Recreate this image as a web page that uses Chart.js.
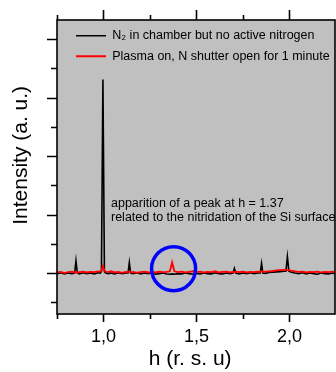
<!DOCTYPE html>
<html>
<head>
<meta charset="utf-8">
<script src="https://cdn.jsdelivr.net/npm/chart.js@4.4.1/dist/chart.umd.min.js"></script>
<style>
  html, body { margin: 0; padding: 0; background: #fff; overflow: hidden; }
  canvas { display: block; }
</style>
</head>
<body>
<canvas id="xrdChart" width="336" height="372"></canvas>
<script>
// h values (r. s. u) shared by both scans
const hValues = [
    0.75, 0.77, 0.79, 0.81, 0.83, 0.845, 0.852, 0.859, 0.87, 0.89,
    0.91, 0.93, 0.95, 0.97, 0.983, 0.989, 0.997, 1.005, 1.012, 1.025,
    1.04, 1.06, 1.08, 1.10, 1.12, 1.132, 1.139, 1.146, 1.16, 1.18,
    1.20, 1.22, 1.24, 1.26, 1.28, 1.30, 1.32, 1.34, 1.357, 1.369,
    1.381, 1.40, 1.42, 1.44, 1.46, 1.48, 1.50, 1.52, 1.54, 1.56,
    1.58, 1.60, 1.62, 1.64, 1.66, 1.68, 1.697, 1.704, 1.711, 1.73,
    1.75, 1.77, 1.79, 1.81, 1.83, 1.843, 1.85, 1.857, 1.87, 1.89,
    1.91, 1.93, 1.95, 1.97, 1.981, 1.989, 1.997, 2.01, 2.03, 2.05,
    2.07, 2.09, 2.11, 2.13, 2.15, 2.17, 2.19, 2.21, 2.23, 2.245
];

// N2 in chamber, no active nitrogen
const blackIntensity = [
    -0.02, 0.01, -0.03, 0.0, -0.02, 0.0, 0.42, 0.0, -0.03, 0.01,
    -0.02, 0.0, -0.03, 0.01, 0.0, 0.05, 6.62, 0.05, 0.0, -0.02,
    0.0, -0.03, 0.01, -0.02, 0.0, 0.0, 0.36, 0.0, -0.02, 0.01,
    -0.03, 0.0, -0.02, 0.01, -0.04, -0.02, 0.0, -0.03, -0.04, -0.03,
    -0.04, -0.02, -0.03, 0.0, -0.02, -0.04, -0.01, -0.03, 0.0, -0.02,
    -0.03, 0.01, -0.02, -0.03, 0.0, -0.02, 0.0, 0.16, 0.0, -0.03,
    0.0, -0.02, 0.01, -0.02, 0.0, 0.0, 0.33, 0.0, -0.01, 0.02,
    0.03, 0.04, 0.05, 0.06, 0.06, 0.56, 0.06, 0.03, 0.0, -0.02,
    0.01, -0.03, 0.0, -0.02, -0.04, 0.0, -0.02, -0.03, 0.0, -0.02
];

// plasma on, N shutter open 1 minute
const redIntensity = [
    0.02, 0.04, 0.0, 0.03, 0.05, 0.02, 0.04, 0.01, 0.03, 0.05,
    0.02, 0.04, 0.03, 0.06, 0.05, 0.09, 0.25, 0.08, 0.05, 0.03,
    0.06, 0.02, 0.04, 0.01, 0.04, 0.03, 0.05, 0.02, 0.04, 0.01,
    0.03, 0.05, 0.02, 0.04, 0.02, 0.05, 0.03, 0.04, 0.06, 0.37,
    0.06, 0.03, 0.05, 0.02, 0.04, 0.06, 0.03, 0.05, 0.02, 0.04,
    0.03, 0.06, 0.02, 0.04, 0.05, 0.02, 0.04, 0.03, 0.05, 0.03,
    0.05, 0.02, 0.04, 0.03, 0.05, 0.04, 0.06, 0.04, 0.05, 0.06,
    0.07, 0.09, 0.1, 0.11, 0.11, 0.1, 0.1, 0.08, 0.06, 0.04,
    0.05, 0.02, 0.04, 0.03, 0.05, 0.02, 0.04, 0.03, 0.05, 0.03
];

// circled peak (h, intensity)
const highlightPoint = [{ x: 1.377, y: 0.15 }];

const xLabelTicks = [1.0, 1.5, 2.0];
const xMajorTicks = [1.0, 1.5, 2.0];
const xMinorTicks = [0.75, 1.25, 1.75];
const yMajorTicks = [0, 2, 4, 6, 8];
const yMinorTicks = [-1, 1, 3, 5, 7];

const noteLines = [
    'apparition of a peak at h = 1.37',
    'related to the nitridation of the Si surface'
];

Chart.defaults.font.family = '"Liberation Sans", Arial, sans-serif';
Chart.defaults.color = '#000';

const framePlugin = {
    id: 'frame',
    afterLayout(chart) {
        // put the legend inside the grey box, top left
        const a = chart.chartArea;
        chart.legend.left = a.left + 11;
        chart.legend.top = a.top + 1.5;
    },
    beforeDraw(chart) {
        const { ctx, chartArea: a } = chart;
        ctx.save();
        ctx.fillStyle = '#c0c0c0';
        ctx.fillRect(a.left, a.top, a.right - a.left, a.bottom - a.top);
        ctx.restore();
    },
    afterDraw(chart) {
        const { ctx, chartArea: a } = chart;
        const x = chart.scales.x, y = chart.scales.y;
        ctx.save();
        ctx.strokeStyle = '#000';
        ctx.lineWidth = 1.6;
        ctx.strokeRect(a.left, a.top, a.right - a.left, a.bottom - a.top);

        ctx.beginPath();
        xMajorTicks.forEach(v => {
            const px = Math.round(x.getPixelForValue(v)) + 0.5;
            ctx.moveTo(px, a.top); ctx.lineTo(px, a.top - 10);
            ctx.moveTo(px, a.bottom); ctx.lineTo(px, a.bottom + 8);
        });
        xMinorTicks.forEach(v => {
            const px = Math.round(x.getPixelForValue(v)) + 0.5;
            ctx.moveTo(px, a.top); ctx.lineTo(px, a.top - 5);
            ctx.moveTo(px, a.bottom); ctx.lineTo(px, a.bottom + 5);
        });
        yMajorTicks.forEach(v => {
            const py = Math.round(y.getPixelForValue(v)) + 0.5;
            ctx.moveTo(a.left, py); ctx.lineTo(a.left - 10, py);
        });
        yMinorTicks.forEach(v => {
            const py = Math.round(y.getPixelForValue(v)) + 0.5;
            ctx.moveTo(a.left, py); ctx.lineTo(a.left - 6, py);
        });
        ctx.stroke();

        // annotation
        ctx.fillStyle = '#000';
        ctx.font = '12.5px "Liberation Sans", Arial, sans-serif';
        ctx.textBaseline = 'alphabetic';
        ctx.fillText(noteLines[0], 111, 207);
        ctx.fillText(noteLines[1], 111, 221);
        ctx.restore();
    }
};

const ctx = document.getElementById('xrdChart').getContext('2d');
new Chart(ctx, {
    type: 'scatter',
    data: {
        datasets: [
            {
                label: 'highlight',
                data: highlightPoint,
                pointRadius: 22,
                pointHoverRadius: 22,
                pointStyle: 'circle',
                borderColor: '#0000ff',
                backgroundColor: 'rgba(0,0,0,0)',
                borderWidth: 3.5,
                showLine: false
            },
            {
                label: 'Plasma on, N shutter open for 1 minute',
                data: hValues.map((h, i) => ({ x: h, y: redIntensity[i] })),
                borderColor: '#ff0000',
                backgroundColor: '#ff0000',
                borderWidth: 1.8,
                pointRadius: 0,
                showLine: true,
                tension: 0
            },
            {
                label: 'N\u2082 in chamber but no active nitrogen',
                data: hValues.map((h, i) => ({ x: h, y: blackIntensity[i] })),
                borderColor: '#000000',
                backgroundColor: '#000000',
                borderWidth: 1.6,
                pointRadius: 0,
                showLine: true,
                tension: 0
            }
        ]
    },
    options: {
        responsive: false,
        animation: false,
        layout: { autoPadding: false, padding: { top: 20, right: 1, left: 0, bottom: 0 } },
        plugins: {
            tooltip: { enabled: false },
            legend: {
                position: 'chartArea',
                align: 'start',
                labels: {
                    usePointStyle: true,
                    pointStyle: 'line',
                    pointStyleWidth: 30,
                    padding: 8,
                    font: { size: 12.5 },
                    color: '#000',
                    filter: item => item.datasetIndex !== 0,
                    sort: (a, b) => b.datasetIndex - a.datasetIndex
                }
            }
        },
        scales: {
            x: {
                type: 'linear',
                min: 0.75,
                max: 2.245,
                afterBuildTicks: scale => { scale.ticks = xLabelTicks.map(v => ({ value: v })); },
                afterFit: scale => {
                    scale.height = 58;
                    scale.paddingLeft = 0;
                    scale.paddingRight = 0;
                },
                grid: { display: false, drawTicks: false },
                border: { display: false },
                ticks: {
                    padding: 12,
                    font: { size: 18 },
                    callback: v => v.toFixed(1).replace('.', ',')
                },
                title: {
                    display: true,
                    text: 'h (r. s. u)  ',
                    font: { size: 21 },
                    padding: { top: 0, bottom: 0 }
                }
            },
            y: {
                type: 'linear',
                min: -1.4,
                max: 8.65,
                afterFit: scale => { scale.width = 57; },
                grid: { display: false, drawTicks: false },
                border: { display: false },
                ticks: { display: false },
                title: {
                    display: true,
                    text: '    Intensity (a. u.)',
                    font: { size: 21 },
                    padding: { top: 9, bottom: 0 }
                }
            }
        }
    },
    plugins: [framePlugin]
});
</script>
</body>
</html>
